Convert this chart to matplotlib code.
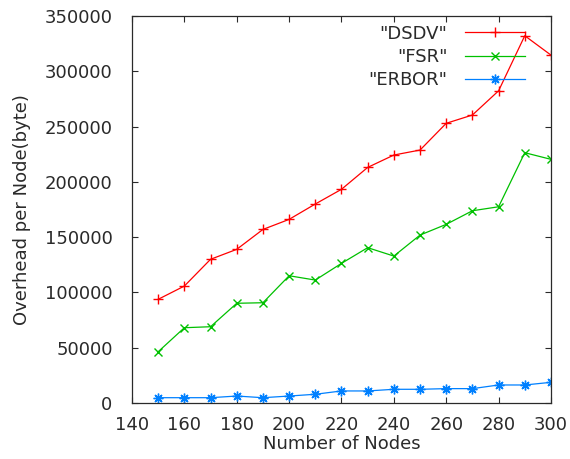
import numpy as np
import matplotlib
matplotlib.use('Agg')
import matplotlib.pyplot as plt

# values
nodes = [150, 160, 170, 180, 190, 200, 210, 220, 230, 240, 250, 260, 270, 280, 290, 300]
dsdv = [93800, 105800, 130000, 139000, 157000, 166100, 180000, 193300,
        213100, 224300, 228800, 253000, 260500, 282400, 332200, 314700]
fsr = [46400, 68100, 69000, 90200, 90700, 115100, 111200, 126300,
       140500, 132900, 151900, 161600, 173900, 177500, 226400, 220400]
erbor = [4800, 4800, 4800, 6300, 4800, 6300, 7900, 10900,
         10900, 12400, 12400, 13000, 13000, 16300, 16300, 18700]

plt.rcParams['font.family'] = ['DejaVu Sans']
plt.rcParams['font.size'] = 13
txt = '#2a2a2a'

fig = plt.figure(figsize=(5.7, 4.59), dpi=100)
ax = fig.add_axes([0.2316, 0.122, 0.735, 0.843])

ax.plot(nodes, dsdv, color='#ff0000', lw=0.9, marker='+', ms=7, mew=1.0, label='"DSDV"')
ax.plot(nodes, fsr, color='#00c000', lw=0.9, marker='x', ms=6, mew=1.0, label='"FSR"')
ax.plot(nodes, erbor, color='#0080ff', lw=0.9, marker=(8, 2, 0), ms=7, mew=1.0, label='"ERBOR"')

ax.set_xlim(140, 300)
ax.set_ylim(0, 350000)
ax.set_xticks(np.arange(140, 301, 20))
ax.set_yticks(np.arange(0, 350001, 50000))
ax.tick_params(direction='in', top=True, right=True, length=4, width=0.8,
               labelsize=13, colors=txt, labelcolor=txt)
ax.tick_params(axis='y', pad=14)
ax.tick_params(axis='x', pad=9)
for s in ax.spines.values():
    s.set_linewidth(0.9)
    s.set_color(txt)

ax.set_xlabel('Number of Nodes', color=txt, labelpad=1)
ax.set_ylabel('Overhead per Node(byte)', color=txt, labelpad=10)

leg = ax.legend(loc='upper right', markerfirst=False, frameon=False, fontsize=13,
                handlelength=3.3, handletextpad=1.0, labelspacing=0.3,
                borderpad=0, borderaxespad=0, bbox_to_anchor=(0.938, 0.978))
for t in leg.get_texts():
    t.set_color(txt)

plt.savefig('out.png', dpi=100)
